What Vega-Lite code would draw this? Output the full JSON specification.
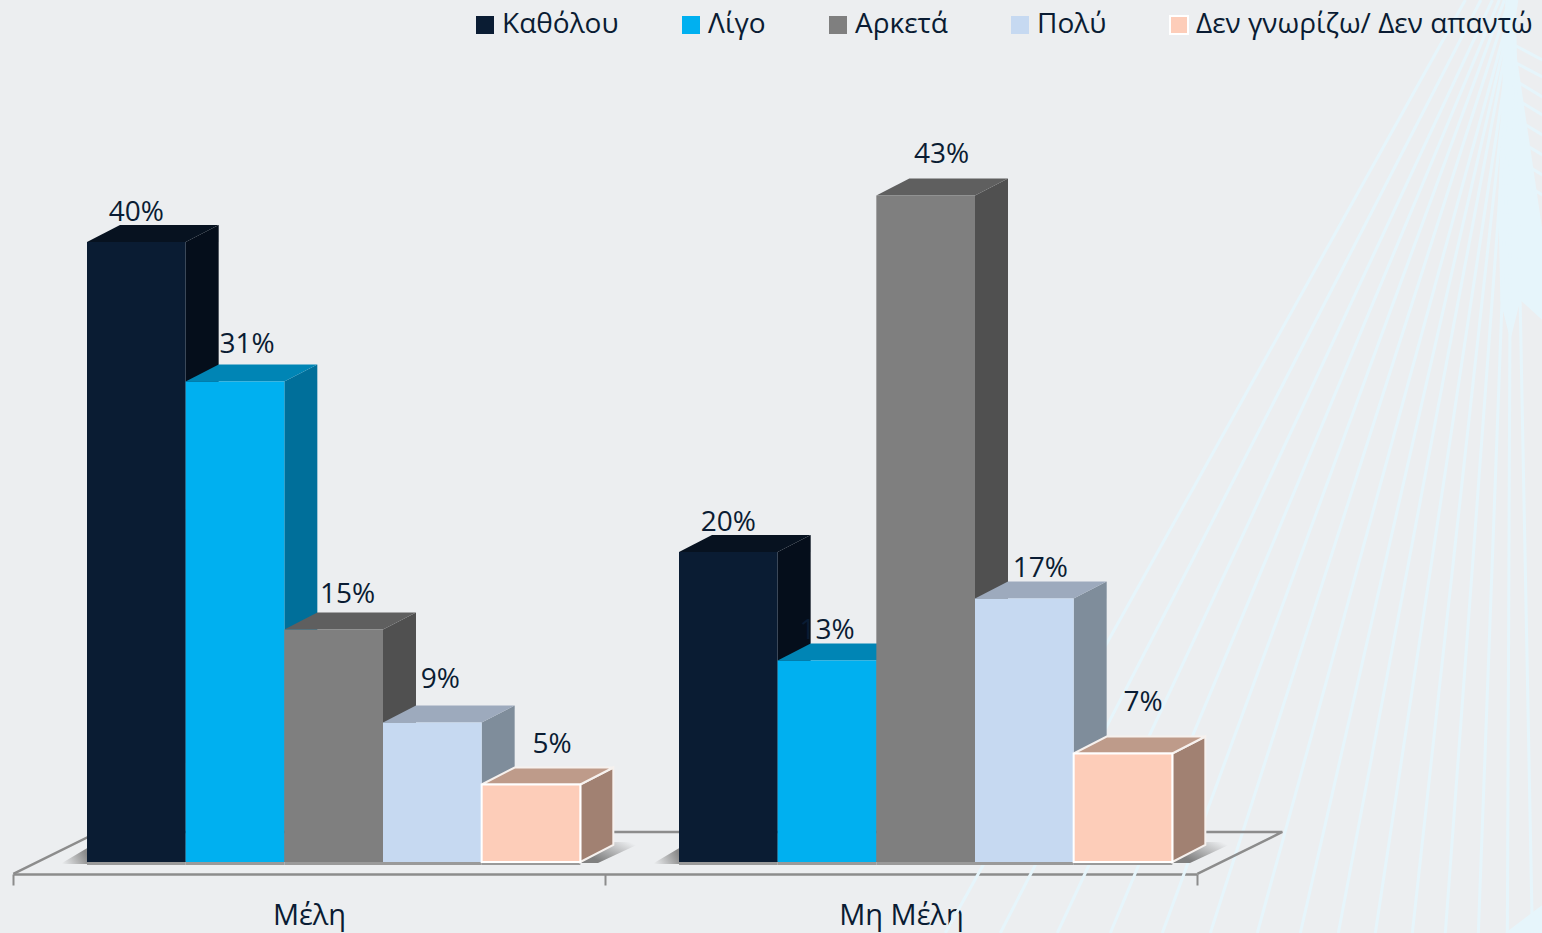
{
"$schema":"https://vega.github.io/schema/vega-lite/v6.json",
"width":1542,"height":933,"padding":0,"autosize":"none","background":"#ECEEF0",
"config":{"view":{"stroke":null},"font":"Open Sans"},
"data":{"values":[
{"group":"Μέλη","series":"Καθόλου","value":0.40},
{"group":"Μέλη","series":"Λίγο","value":0.31},
{"group":"Μέλη","series":"Αρκετά","value":0.15},
{"group":"Μέλη","series":"Πολύ","value":0.09},
{"group":"Μέλη","series":"Δεν γνωρίζω/ Δεν απαντώ","value":0.05},
{"group":"Μη Μέλη","series":"Καθόλου","value":0.20},
{"group":"Μη Μέλη","series":"Λίγο","value":0.13},
{"group":"Μη Μέλη","series":"Αρκετά","value":0.43},
{"group":"Μη Μέλη","series":"Πολύ","value":0.17},
{"group":"Μη Μέλη","series":"Δεν γνωρίζω/ Δεν απαντώ","value":0.07}
]},
"encoding":{
"x":{"field":"group","type":"nominal","sort":null,"title":null,
 "scale":{"type":"band","domain":["Μέλη","Μη Μέλη"],"range":[13,1197],"paddingInner":0,"paddingOuter":0},
 "axis":{"offset":-59,"labelAngle":0,"grid":false,"tickBand":"extent","tickSize":11,"tickWidth":2,"tickColor":"#8C8C8C","domainColor":"#8C8C8C","domainWidth":2.5,"labelFontSize":29,"labelFont":"Open Sans","labelColor":"#0A1C33","labelPadding":16}},
"xOffset":{"field":"series","type":"nominal","sort":null,
 "scale":{"type":"band","domain":["Καθόλου","Λίγο","Αρκετά","Πολύ","Δεν γνωρίζω/ Δεν απαντώ"],"range":[0,592],"paddingInner":0,"paddingOuter":0.5,"align":0.75}},
"y":{"field":"value","type":"quantitative","axis":null,"scale":{"domain":[-0.04581,0.55613],"range":[933,0],"zero":false,"nice":false}}
},
"layer":[
{"transform":[{"filter":"datum.group=='Μέλη' && datum.series=='Καθόλου'"}],
 "mark":{"type":"point","filled":true,"size":4,"fill":"#E6F5FB","opacity":1,
 "shape":"M1369,-862 L1378,-862 L1378,-822 L1406,-632 L1406,-542 L1384,-562 L1374,-522 L1364,-562 L1362,-662 Z M1369,71 L1406,43 L1406,71 Z"},
 "encoding":{"y":{"datum":0}}},
{"transform":[{"filter":"datum.group=='Μέλη' && datum.series=='Καθόλου'"}],
 "mark":{"type":"point","filled":false,"size":4,"stroke":"#E6F5FB","strokeWidth":3,"opacity":1,
 "shape":"M1329,-862 L809,71 M1344.5,-862 L864,71 M1356,-862 L921,71 M1363,-862 L974,71 M1368,-862 L1026,71 M1373,-862 L1074,71 M1377,-862 L1121,71 M1378,-862 L1164,71 M1379,-862 L1202,71 M1380.5,-862 L1239,71 M1379,-862 L1276,71 M1378,-862 L1309,71 M1377,-862 L1342,71 M1375,-862 L1371,71 M1378,-862 L1396,71 M1378,-817 L1406,-802 M1378,-800 L1406,-785 M1378,-782 L1406,-765 M1378,-764 L1406,-747 M1378,-744 L1406,-727 M1378,-724 L1406,-707 M1378,-704 L1406,-687 M1378,-684 L1406,-667"},
 "encoding":{"y":{"datum":0}}},
{"transform":[{"filter":"datum.group=='Μέλη' && datum.series=='Καθόλου'"}],
 "mark":{"type":"point","filled":false,"size":4,"stroke":"#8C8C8C","strokeWidth":2.5,"opacity":1,
 "shape":"M-123,12 L-38,-30 L1146,-30 L1061,12"},
 "encoding":{"y":{"datum":0}}},
{"mark":{"type":"point","filled":true,"size":4,"fill":"#9A9A9A","opacity":1,"shape":"M-49.33,-1 L49.33,-1 L49.33,3 L-49.33,3 Z"},
 "encoding":{"y":{"datum":0}}},
{"transform":[{"filter":"datum.series=='Δεν γνωρίζω/ Δεν απαντώ'"}],
 "mark":{"type":"point","filled":true,"size":4,"opacity":1,"shape":"M49,1 L82,-20 L112,-20 L67,1 Z",
 "fill":{"x1":0,"y1":1,"x2":1,"y2":0.3,"gradient":"linear","stops":[{"offset":0.25,"color":"#808080"},{"offset":1,"color":"#ECEEF0"}]}},
 "encoding":{"y":{"datum":0}}},
{"transform":[{"filter":"datum.series=='Καθόλου'"}],
 "mark":{"type":"point","filled":true,"size":4,"opacity":1,"shape":"M-49,-14 L-49,2 L-76,2 Z",
 "fill":{"x1":1,"y1":0.5,"x2":0,"y2":0.8,"gradient":"linear","stops":[{"offset":0,"color":"#8A8A8A"},{"offset":1,"color":"#ECEEF0"}]}},
 "encoding":{"y":{"datum":0}}},
{"mark":{"type":"point","filled":true,"size":4,"opacity":1,"strokeWidth":2,
 "shape":{"expr":"'M49.33,0 L82.33,-17 L82.33,'+(scale('y',0)-scale('y',datum.value)-17)+' L49.33,'+(scale('y',0)-scale('y',datum.value))+' Z'"}},
 "encoding":{"fill":{"field":"series","type":"nominal","legend":null,"scale":{"domain":["Καθόλου","Λίγο","Αρκετά","Πολύ","Δεν γνωρίζω/ Δεν απαντώ"],"range":["#050E1B","#006F9A","#505050","#7F8D9B","#A18172"]}},
 "stroke":{"field":"series","type":"nominal","legend":null,"scale":{"domain":["Καθόλου","Λίγο","Αρκετά","Πολύ","Δεν γνωρίζω/ Δεν απαντώ"],"range":["transparent","transparent","transparent","transparent","#F6F1EE"]}}}},
{"mark":{"type":"point","filled":true,"size":4,"opacity":1,"strokeWidth":2,"shape":"M-49.33,0 L-16.33,-17 L82.33,-17 L49.33,0 Z"},
 "encoding":{"fill":{"field":"series","type":"nominal","legend":null,"scale":{"domain":["Καθόλου","Λίγο","Αρκετά","Πολύ","Δεν γνωρίζω/ Δεν απαντώ"],"range":["#071220","#0085B5","#5F5F5F","#9DAABD","#BE9B8A"]}},
 "stroke":{"field":"series","type":"nominal","legend":null,"scale":{"domain":["Καθόλου","Λίγο","Αρκετά","Πολύ","Δεν γνωρίζω/ Δεν απαντώ"],"range":["transparent","transparent","transparent","transparent","#F6F1EE"]}}}},
{"mark":{"type":"bar","strokeWidth":2},
 "encoding":{"y2":{"datum":0},
 "fill":{"field":"series","type":"nominal","title":null,"scale":{"domain":["Καθόλου","Λίγο","Αρκετά","Πολύ","Δεν γνωρίζω/ Δεν απαντώ"],"range":["#0A1C33","#00B0F0","#7F7F7F","#C6D9F1","#FDCDB9"]},
  "legend":{"orient":"none","legendX":471,"legendY":11,"padding":0,"direction":"horizontal","columns":5,"columnPadding":58,"symbolType":"square","symbolSize":324,"symbolStrokeWidth":2,"labelFontSize":28,"labelFont":"Open Sans","labelColor":"#0A1C33","labelOffset":3,"labelLimit":600,"title":null}},
 "stroke":{"field":"series","type":"nominal","title":null,"scale":{"domain":["Καθόλου","Λίγο","Αρκετά","Πολύ","Δεν γνωρίζω/ Δεν απαντώ"],"range":["transparent","transparent","transparent","transparent","#FFFFFF"]},
  "legend":{"orient":"none","legendX":471,"legendY":11,"padding":0,"direction":"horizontal","columns":5,"columnPadding":58,"symbolType":"square","symbolSize":324,"symbolStrokeWidth":2,"labelFontSize":28,"labelFont":"Open Sans","labelColor":"#0A1C33","labelOffset":3,"labelLimit":600,"title":null}}}},
{"mark":{"type":"text","fontSize":28,"font":"Open Sans","color":"#0A1C33","baseline":"middle","align":"center",
 "dx":{"expr":"({'Μέλη|Καθόλου':0,'Μέλη|Λίγο':12,'Μέλη|Αρκετά':14,'Μέλη|Πολύ':8,'Μέλη|Δεν γνωρίζω/ Δεν απαντώ':21,'Μη Μέλη|Καθόλου':0,'Μη Μέλη|Λίγο':0,'Μη Μέλη|Αρκετά':16,'Μη Μέλη|Πολύ':16,'Μη Μέλη|Δεν γνωρίζω/ Δεν απαντώ':20})[datum.group+'|'+datum.series]"},
 "dy":{"expr":"({'Μέλη|Καθόλου':-29,'Μέλη|Λίγο':-36,'Μέλη|Αρκετά':-34,'Μέλη|Πολύ':-42,'Μέλη|Δεν γνωρίζω/ Δεν απαντώ':-39,'Μη Μέλη|Καθόλου':-29,'Μη Μέλη|Λίγο':-29,'Μη Μέλη|Αρκετά':-41,'Μη Μέλη|Πολύ':-29,'Μη Μέλη|Δεν γνωρίζω/ Δεν απαντώ':-50})[datum.group+'|'+datum.series]"}},
 "encoding":{"text":{"field":"value","type":"quantitative","format":".0%"}}}
],
"resolve":{"scale":{"color":"independent","fill":"independent","stroke":"independent"}}
}
